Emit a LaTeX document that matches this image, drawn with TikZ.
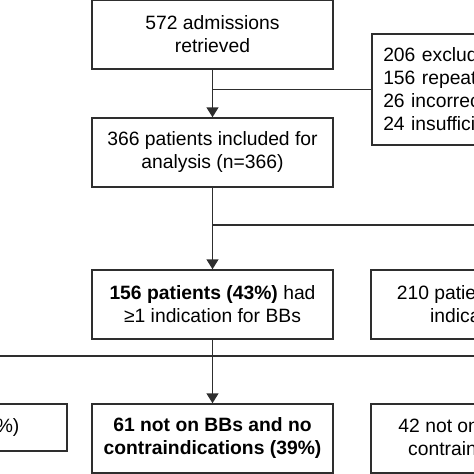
\documentclass[tikz,border=0pt]{standalone}
\usepackage{fontspec}
\setmainfont{Liberation Sans}
\usetikzlibrary{arrows.meta}
\begin{document}
\begin{tikzpicture}[x=1pt,y=-1pt,
  box/.style={draw=black!82,line width=1.5pt,inner sep=0pt,align=center,
    font=\fontsize{19.3}{23}\selectfont},
  conn/.style={draw=black!82,line width=1.5pt},
  arr/.style={conn,-{Triangle[width=12pt,length=10pt]}}]
\useasboundingbox (0,0) rectangle (474,474);
\clip (0,0) rectangle (474,474);
\node[box,minimum width=241pt,minimum height=69pt] (b1) at (212.5,34.5) {572 admissions\\retrieved};
\node[box,minimum width=241pt,minimum height=69pt] (b2) at (212.5,152.5) {366 patients included for\\analysis (n=366)};
\node[box,minimum width=241pt,minimum height=69pt] (b3) at (212.5,304.5) {\textbf{156 patients (43\%)} had\\≥1 indication for BBs};
\node[box,minimum width=241pt,minimum height=69pt] (b4) at (212.5,438.5) {\textbf{61 not on BBs and no}\\\textbf{contraindications (39\%)}};
\node[box,anchor=west,align=left,inner xsep=11.5pt,text width=218pt,minimum height=111pt] (ex) at (371,89.5) {206 excluded:\\156 repeat admissions\\26 incorrect diagnosis\\24 insufficient data};
\node[box,minimum width=278pt,minimum height=69pt] (no) at (510,304.5) {210 patients (57\%) had no\\indications for BBs};
\node[box,minimum width=241pt,minimum height=47pt] (on) at (-53.5,427.5) {53 on BBs (34\%)};
\node[box,minimum width=276pt,minimum height=69pt] (ci) at (509,438.5) {42 not on BBs because of\\contraindications (27\%)};
\coordinate (j0) at (212.5,89.5);
\coordinate (j1) at (212.5,225);
\coordinate (j2) at (212.5,356);
\draw[arr] (b1.south) -- (b2.north);
\draw[conn] (j0) -- (ex.west);
\draw[arr] (b2.south) -- (b3.north);
\draw[arr] (j1) -| (no.north);
\draw[arr] (b3.south) -- (b4.north);
\draw[arr] (j2) -| (on.north);
\draw[arr] (j2) -| (ci.north);
\end{tikzpicture}
\end{document}
